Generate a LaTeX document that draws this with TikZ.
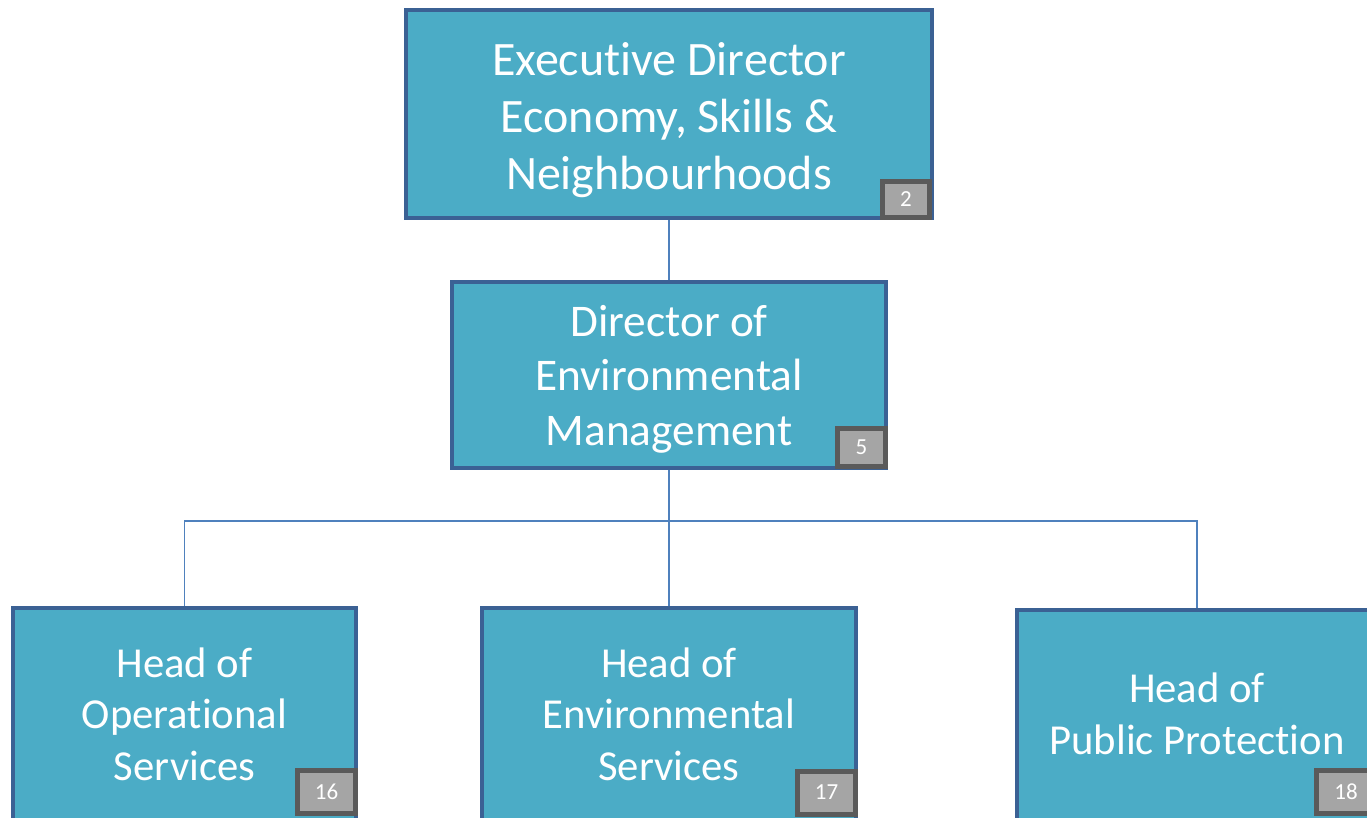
\documentclass[tikz,border=0pt]{standalone}
\usepackage{fontspec}
\setmainfont{Carlito}[Ligatures=CommonOff]
\definecolor{boxfill}{HTML}{4BACC6}
\definecolor{boxline}{HTML}{3B6194}
\definecolor{linkcol}{HTML}{4F81BD}
\definecolor{badgefill}{HTML}{A5A5A5}
\definecolor{badgeline}{HTML}{5A5A5A}
\tikzset{
  box/.style={draw=boxline, fill=boxfill, line width=4pt, inner sep=0pt},
  boxtext/.style={inner sep=0pt, text=white, align=center},
  badge/.style={draw=badgeline, fill=badgefill, line width=5pt, inner sep=0pt, text=white, font=\fontsize{23}{26}\selectfont},
  link/.style={draw=linkcol, line width=1.5pt},
}
\begin{document}
\begin{tikzpicture}[x=1pt,y=-1pt]
\useasboundingbox (0,0) rectangle (1367,818);
\clip (0,0) rectangle (1367,818);
\node[box, minimum width=526pt, minimum height=208pt] (exec) at (669,114) {};
\node[boxtext, font=\fontsize{48}{57}\selectfont] (exect) at (669,120) {Executive Director\\Economy, Skills \&\\Neighbourhoods};
\node[box, minimum width=434pt, minimum height=186pt] (dir) at (669,375) {};
\node[boxtext, font=\fontsize{45.3}{54.5}\selectfont] (dirt) at (669,379) {Director of\\Environmental\\Management};
\node[box, minimum width=343pt, minimum height=212pt] (ops) at (184.5,714) {};
\node[boxtext, font=\fontsize{42.7}{51.5}\selectfont] (opst) at (184.5,714) {Head of\\Operational\\Services};
\node[box, minimum width=374pt, minimum height=212pt] (env) at (669,714) {};
\node[boxtext, font=\fontsize{42.7}{51.5}\selectfont] (envt) at (669,714) {Head of\\Environmental\\Services};
\node[box, minimum width=360pt, minimum height=210pt] (pub) at (1197,715) {};
\node[boxtext, font=\fontsize{42.7}{52}\selectfont] (pubt) at (1197,714) {Head of\\Public Protection};
\node[badge, minimum width=47pt, minimum height=36pt] (b2) at (906,199.5) {2};
\node[badge, minimum width=48pt, minimum height=38pt] (b5) at (861.5,447.5) {5};
\node[badge, minimum width=58pt, minimum height=43pt] (b16) at (326.5,792) {16};
\node[badge, minimum width=58pt, minimum height=43pt] (b17) at (826.5,792.5) {17};
\node[badge, minimum width=60pt, minimum height=43pt] (b18) at (1346,792) {18};
\coordinate (bus) at (669,521);
\draw[link] (exec.south) -- (dir.north);
\draw[link] (dir.south) -- (bus);
\draw[link] (ops.north) |- (bus) -| (pub.north);
\draw[link] (bus) -- (env.north);
\end{tikzpicture}
\end{document}
